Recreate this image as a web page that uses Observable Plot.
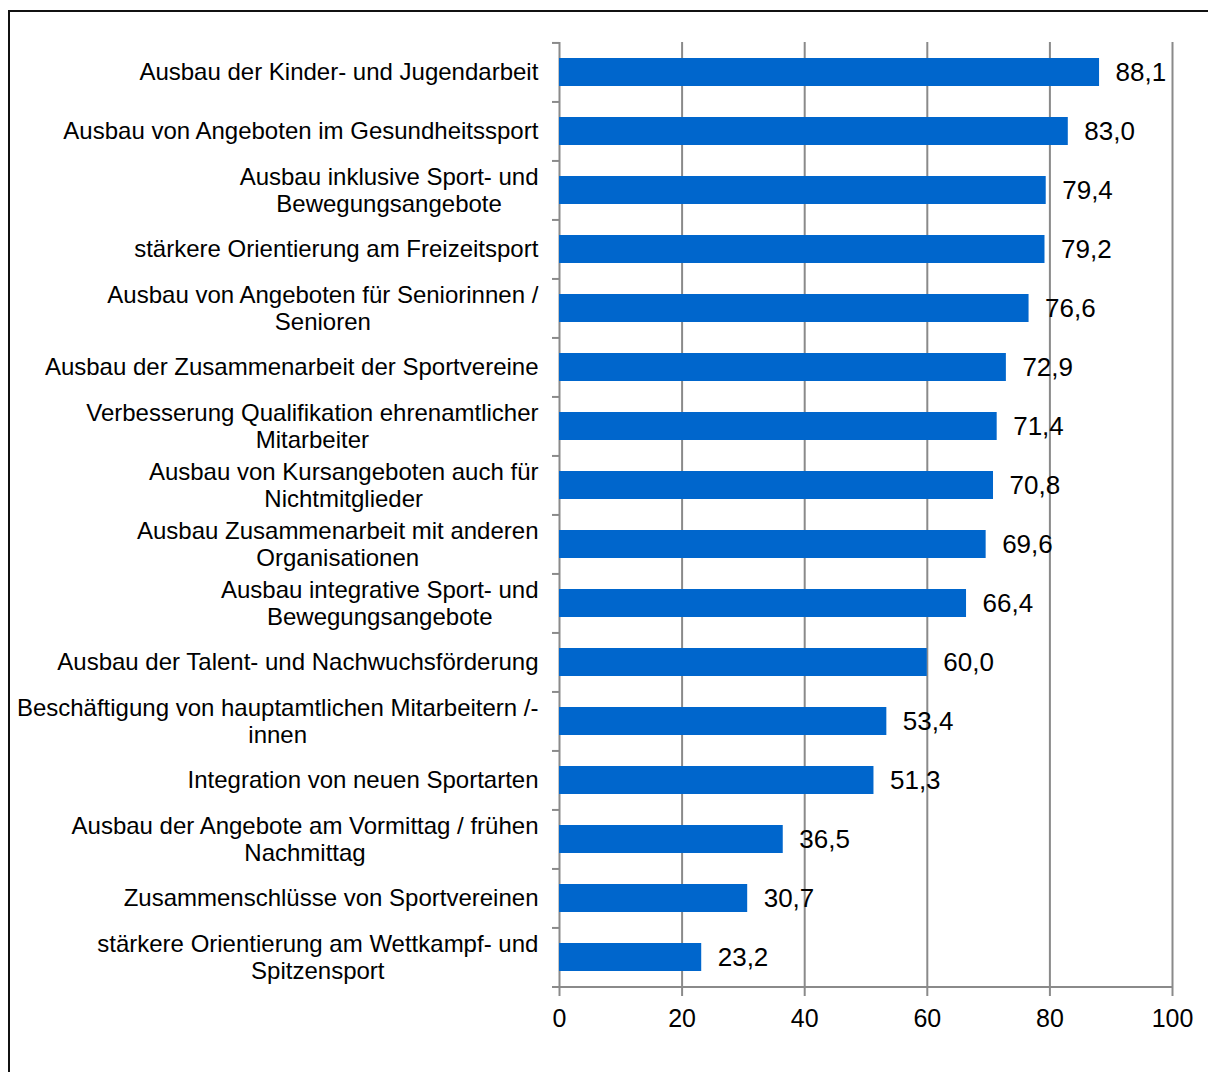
<!DOCTYPE html>
<html><head><meta charset="utf-8">
<script src="https://cdn.jsdelivr.net/npm/d3@7"></script>
<script src="https://cdn.jsdelivr.net/npm/@observablehq/plot@0.6"></script>
<style>
body{margin:0;background:#fff;overflow:hidden;}
#wrap{position:relative;width:1208px;height:1072px;overflow:hidden;}
#frame{position:absolute;left:8px;top:10px;width:2000px;height:2000px;border-left:2px solid #111;border-top:2px solid #111;}
#chart{position:absolute;left:0;top:0;}
</style></head><body><div id="wrap"><div id="frame"></div><div id="chart"></div></div>
<script>
const categories = [
  "Ausbau der Kinder- und Jugendarbeit",
  "Ausbau von Angeboten im Gesundheitssport",
  "Ausbau inklusive Sport- und\nBewegungsangebote",
  "stärkere Orientierung am Freizeitsport",
  "Ausbau von Angeboten für Seniorinnen /\nSenioren",
  "Ausbau der Zusammenarbeit der Sportvereine",
  "Verbesserung Qualifikation ehrenamtlicher\nMitarbeiter",
  "Ausbau von Kursangeboten auch für\nNichtmitglieder",
  "Ausbau Zusammenarbeit mit anderen\nOrganisationen",
  "Ausbau integrative Sport- und\nBewegungsangebote",
  "Ausbau der Talent- und Nachwuchsförderung",
  "Beschäftigung von hauptamtlichen Mitarbeitern /-\ninnen",
  "Integration von neuen Sportarten",
  "Ausbau der Angebote am Vormittag / frühen\nNachmittag",
  "Zusammenschlüsse von Sportvereinen",
  "stärkere Orientierung am Wettkampf- und\nSpitzensport"
];
const values = [88.1, 83.0, 79.4, 79.2, 76.6, 72.9, 71.4, 70.8, 69.6, 66.4, 60.0, 53.4, 51.3, 36.5, 30.7, 23.2];
const xTicks = [0, 20, 40, 60, 80, 100];

const data = categories.map((c, i) => ({category: c, value: values[i]}));
const W = 1208, H = 1072, mt = 42, mb = 84, ml = 559, mr = 36;
const step = (H - mt - mb) / categories.length;
const gridColor = "#8a8a8a";
const barColor = "#0066cc";
const fmt = v => d3.format(".1f")(v).replace(".", ",");
const font = "'Liberation Sans', Arial, sans-serif";

const plot = Plot.plot({
  width: W, height: H,
  marginTop: mt, marginBottom: mb, marginLeft: ml, marginRight: mr,
  style: {fontFamily: font, fontSize: "24px", background: "transparent", color: "#000", overflow: "visible"},
  x: {domain: [0, 100]},
  y: {domain: categories, paddingInner: 0.52, paddingOuter: 0.26},
  marks: [
    Plot.ruleX(xTicks, {stroke: gridColor, strokeWidth: 2}),
    Plot.barX(data, {x: "value", y: "category", fill: barColor}),
    Plot.ruleY(categories, {y: d => d, x1: 0, x2: 0, insetLeft: -7, dy: -step / 2, stroke: gridColor, strokeWidth: 2}),
    Plot.ruleY(categories.slice(-1), {y: d => d, x1: 0, x2: 100, insetLeft: -7, dy: step / 2, stroke: gridColor, strokeWidth: 2}),
    Plot.axisX({ticks: xTicks, tickSize: 8, tickPadding: 13, stroke: gridColor, strokeWidth: 2, label: null, fontSize: 25, tickFormat: d => String(d), fill: "#000"}),
    Plot.axisY({tickSize: 0, tickPadding: 21, label: null, fontSize: 24, lineHeight: 1.125, textAnchor: "end", fill: "#000", dy: -1}),
    Plot.text(data, {x: "value", y: "category", text: d => fmt(d.value), dx: 16, textAnchor: "start", fontSize: 26, fill: "#000"})
  ]
});
document.getElementById("chart").appendChild(plot);

// center multi-line category labels within their block (right-aligned block)
plot.querySelectorAll('g[aria-label="y-axis tick label"] text').forEach(t => {
  const w = t.getBBox().width;
  t.setAttribute("text-anchor", "middle");
  const spans = t.querySelectorAll("tspan");
  if (spans.length) spans.forEach(s => s.setAttribute("x", -w / 2));
  else t.setAttribute("x", -w / 2);
});
</script>
</body></html>
